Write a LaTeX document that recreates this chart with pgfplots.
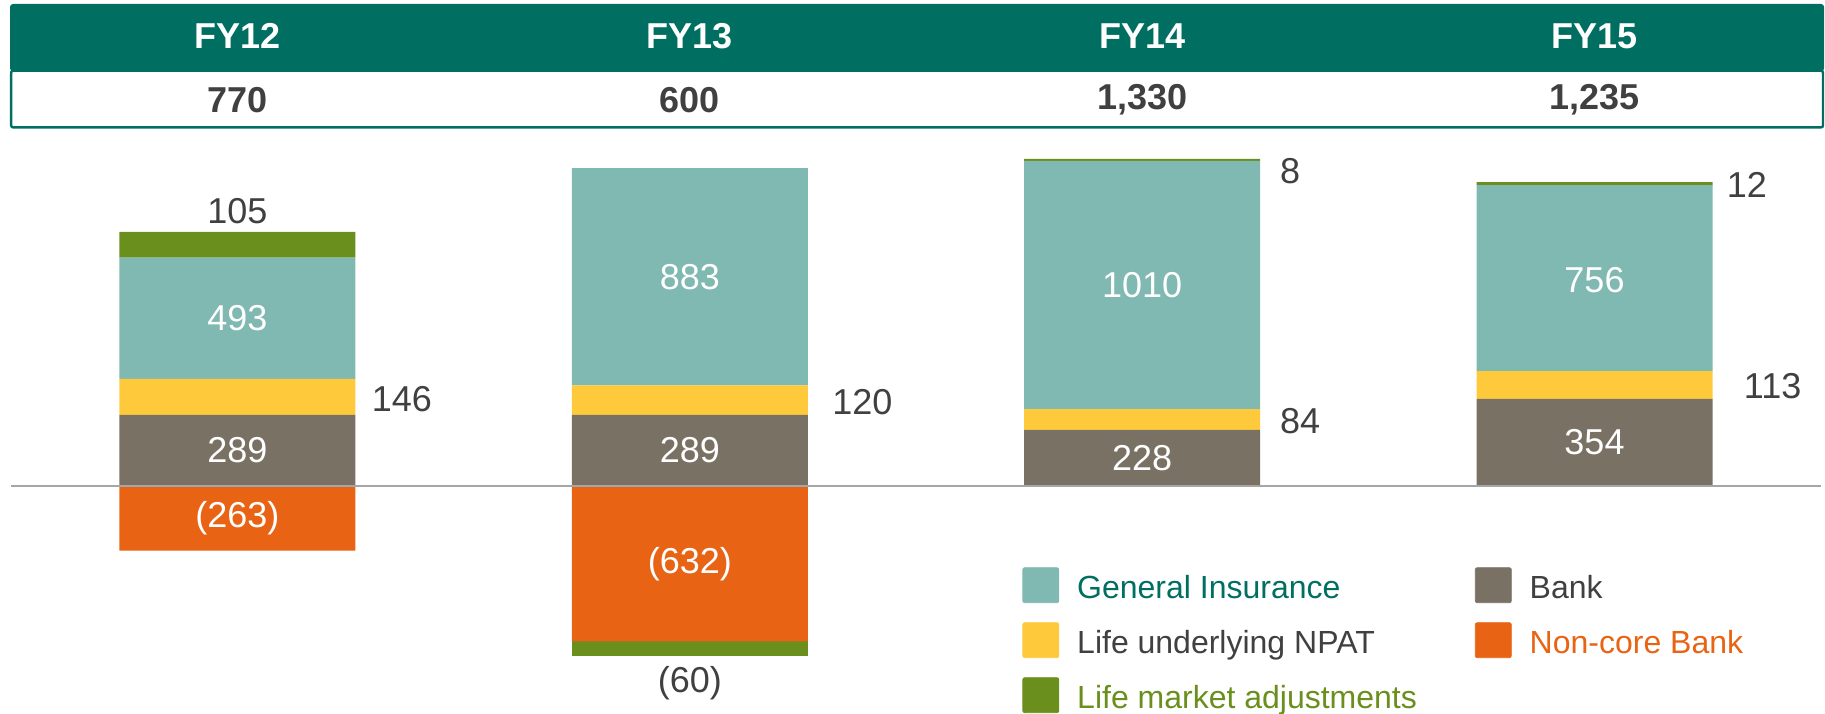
\documentclass[border=0pt]{standalone}
\usepackage{pgfplots}
\pgfplotsset{compat=1.18}
\usepackage{fontspec}
\setmainfont{Liberation Sans}
\definecolor{hdr}{HTML}{006F62}
\definecolor{gi}{HTML}{80B8B2}
\definecolor{life}{HTML}{FFC93C}
\definecolor{bank}{HTML}{7A7165}
\definecolor{noncore}{HTML}{E86414}
\definecolor{lifemkt}{HTML}{6A8F1C}
\definecolor{txt}{HTML}{404040}
\definecolor{zline}{HTML}{A6A6A6}

\pgfplotsset{base/.style={
  width=912.5pt, height=356.5pt, scale only axis,
  xmin=-0.525, xmax=3.5096, ymin=-922.8, ymax=1975.6,
  hide axis, clip=false,
}}
\pgfplotsset{bars/.style={ybar stacked, bar width=118pt,
  every axis plot/.append style={draw=none}}}
\pgfplotsset{sq/.style={legend image code/.code={\fill[#1, rounded corners=1pt] (0pt,-7pt) rectangle (18pt,10.5pt);}}}

\begin{document}
\begin{tikzpicture}[font=\fontsize{18}{21}\selectfont]
% positive stack
\begin{axis}[base, bars]
\path (rel axis cs:0,0) rectangle (rel axis cs:1,1);
\addplot[fill=bank] coordinates {(0,289) (1,289) (2,228) (3,354)};
\addplot[fill=life] coordinates {(0,146) (1,120) (2,84) (3,113)};
\addplot[fill=gi] coordinates {(0,493) (1,883) (2,1010) (3,756)};
\addplot[fill=lifemkt] coordinates {(0,105) (1,0) (2,8) (3,12)};
\end{axis}
% negative stack
\begin{axis}[base, bars]
\addplot[fill=noncore] coordinates {(0,-263) (1,-632) (2,0) (3,0)};
\addplot[fill=lifemkt] coordinates {(0,0) (1,-60) (2,0) (3,0)};
\end{axis}
% header, labels, zero line, legend
\begin{axis}[base,
  legend style={at={(0.56,0.2049)}, anchor=north west, draw=none, fill=none,
    font=\fontsize{16}{19}\selectfont, text=txt, inner sep=0pt,
    column sep=9pt, row sep=9.6pt, nodes={inner sep=0pt},
    /tikz/every even column/.append style={column sep=29pt}},
  legend cell align=left, legend columns=2]
\path[draw=hdr, line width=1.2pt, fill=white, rounded corners=1pt] (rel axis cs:0.0061,0.8213) rectangle (rel axis cs:0.9989,0.9008);
\path[fill=hdr, rounded corners=1.5pt] (rel axis cs:0.0055,0.9000) rectangle (rel axis cs:0.9995,0.9944);
\draw[zline, line width=1pt] (axis cs:-0.5,0) -- (axis cs:3.5,0);
% header text
\begin{scope}[every node/.style={text=white, font=\fontsize{18}{21}\selectfont\bfseries, inner sep=0pt}]
\node at (axis cs:0,1829) {FY12};
\node at (axis cs:1,1829) {FY13};
\node at (axis cs:2,1829) {FY14};
\node at (axis cs:3,1829) {FY15};
\end{scope}
\begin{scope}[every node/.style={text=txt, font=\fontsize{18}{21}\selectfont\bfseries, inner sep=0pt}]
\node at (axis cs:0,1569) {770};
\node at (axis cs:1,1569) {600};
\node at (axis cs:2,1569) {1,330};
\node at (axis cs:3,1569) {1,235};
\end{scope}
% inside labels
\begin{scope}[every node/.style={text=white, inner sep=0pt}]
\node at (axis cs:0,144.5) {289};
\node at (axis cs:0,681.5) {493};
\node at (axis cs:0,-131.5) {(263)};
\node at (axis cs:1,144.5) {289};
\node at (axis cs:1,850.5) {883};
\node at (axis cs:1,-316) {(632)};
\node at (axis cs:2,114) {228};
\node at (axis cs:2,817) {1010};
\node at (axis cs:3,177) {354};
\node at (axis cs:3,838) {756};
\end{scope}
% outside labels
\begin{scope}[every node/.style={text=txt, inner sep=0pt}]
\node at (axis cs:0,1118) {105};
\node at (axis cs:1,-800) {(60)};
\node[anchor=west, xshift=8pt] at (axis cs:0.261,354) {146};
\node[anchor=west, xshift=12pt] at (axis cs:1.261,340) {120};
\node[anchor=west, xshift=9.8pt] at (axis cs:2.261,262) {84};
\node[anchor=west, xshift=15.5pt] at (axis cs:3.261,408) {113};
\node[anchor=west, xshift=9.8pt] at (axis cs:2.261,1280) {8};
\node[anchor=west, xshift=7pt] at (axis cs:3.261,1224) {12};
\end{scope}
% legend
\addlegendimage{sq=gi}
\addlegendentry{\textcolor{hdr}{General Insurance}}
\addlegendimage{sq=bank}
\addlegendentry{Bank}
\addlegendimage{sq=life}
\addlegendentry{Life underlying NPAT}
\addlegendimage{sq=noncore}
\addlegendentry{\textcolor{noncore}{Non-core Bank}}
\addlegendimage{sq=lifemkt}
\addlegendentry{\textcolor{lifemkt}{Life market adjustments}}
\end{axis}
\end{tikzpicture}
\end{document}
